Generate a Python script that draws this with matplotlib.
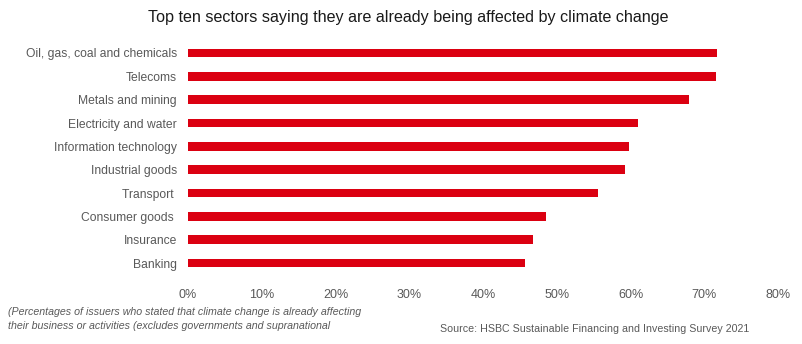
# bar chart of sectors already affected by climate change
import matplotlib.pyplot as plt
import numpy as np
from matplotlib import font_manager

# sectors, top to bottom
sectors = ["Oil, gas, coal and chemicals",
           "Telecoms",
           "Metals and mining",
           "Electricity and water",
           "Information technology",
           "Industrial goods",
           "Transport ",
           "Consumer goods ",
           "Insurance",
           "Banking"]

# share of issuers already affected (%)
affected_pct = [71.7, 71.6, 67.9, 61.0, 59.8, 59.2, 55.6, 48.5, 46.8, 45.7]

x_ticks = [0, 10, 20, 30, 40, 50, 60, 70, 80]
x_tick_labels = ["%d%%" % t for t in x_ticks]

# pick a narrow font when there is one
names = {f.name for f in font_manager.fontManager.ttflist}
narrow = "Liberation Sans Narrow" if "Liberation Sans Narrow" in names \
    else "Liberation Sans"
plt.rcParams["font.family"] = ["Liberation Sans", "DejaVu Sans"]

fig = plt.figure(figsize=(8.03, 3.44), dpi=100)
ax = fig.add_axes([0.234, 0.201, 0.735, 0.679])

y_pos = np.arange(len(sectors))
ax.barh(y_pos, affected_pct, height=0.37, color="#DB0011")

ax.set_ylim(len(sectors) - 0.5, -0.5)
ax.set_xlim(0, 80)
ax.set_yticks(y_pos)
ax.set_yticklabels(sectors, fontsize=8.7, color="#595959")
ax.set_xticks(x_ticks)
ax.set_xticklabels(x_tick_labels, fontsize=9, color="#595959")
ax.tick_params(axis="y", length=0, pad=8)
ax.tick_params(axis="x", length=0, pad=10)
for side in ax.spines.values():
    side.set_visible(False)

# title and notes
fig.text(0.508, 0.948, "Top ten sectors saying they are already being "
         "affected by climate change", ha="center", va="center",
         fontsize=11.6, family=narrow, color="#1a1a1a")
fig.text(0.010, 0.074, "(Percentages of issuers who stated that climate "
         "change is already affecting\ntheir business or activities "
         "(excludes governments and supranational",
         ha="left", va="center", fontsize=7.7, style="italic",
         color="#595959", linespacing=1.5)
fig.text(0.548, 0.044, "Source: HSBC Sustainable Financing and Investing "
         "Survey 2021", ha="left", va="center", fontsize=7.7,
         color="#595959")

plt.savefig("out.png", dpi=100)
